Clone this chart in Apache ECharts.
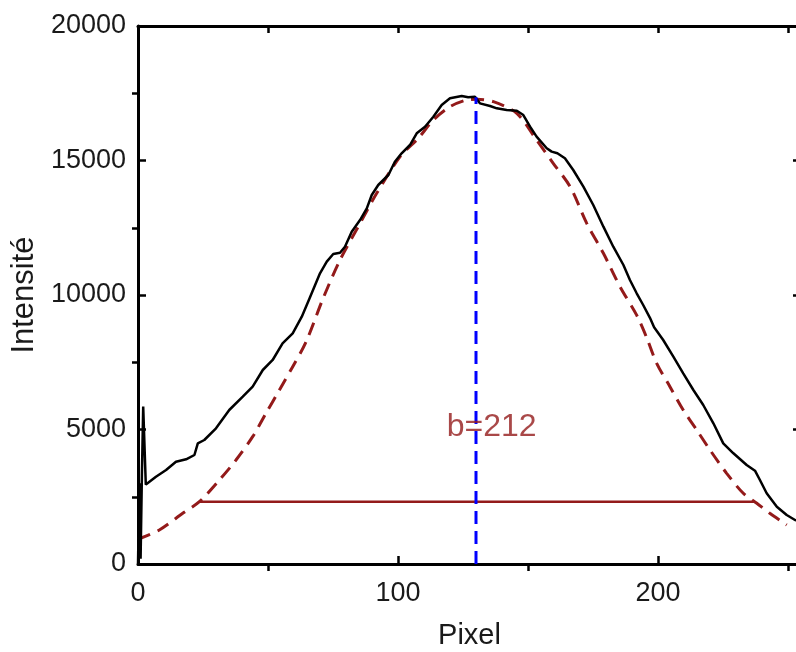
<!DOCTYPE html>
<html>
<head>
<meta charset="utf-8">
<script src="https://cdn.jsdelivr.net/npm/echarts@6/dist/echarts.min.js"></script>
<style>html,body{margin:0;padding:0;background:#fff}#c{width:796px;height:652px}</style>
</head>
<body>
<div id="c"></div>
<script>
// ---- data ----
const profileX = [0,0.5,1,1.5,2,3,4.4,6.9,10.8,14.6,18.5,21.7,23,25.5,30,35.1,40.3,44.1,48,51.8,55.6,59.5,63,66,70,72.6,75.1,77.7,79.6,82.2,85.4,88,89.9,92.4,96.3,98.8,101.4,104.6,107.2,110.4,113.6,116.8,120,124.5,127,129.6,131.5,135.4,138,141.8,145.7,148.2,150.8,153.3,157.2,159.1,161.3,164.2,167.4,171.3,175.1,179,182.8,186.7,189.2,191.8,194.3,196.9,198.5,202,205.9,209.7,213.6,217.4,221.3,225.1,229,234.1,237.3,239.2,241.8,245.7,249.5,252.7,255];
const profileY = [0,3000,200,3300,5850,2950,3060,3245,3494,3803,3892,4052,4486,4610,5044,5725,6220,6591,7212,7584,8204,8576,9193,9880,10807,11239,11524,11573,11796,12354,12788,13222,13717,14089,14461,14956,15267,15576,16010,16257,16629,17063,17311,17398,17348,17372,17125,17026,16940,16877,16851,16691,16257,15886,15454,15329,15267,15082,14647,14027,13346,12540,11796,11115,10558,10063,9628,9150,8800,8327,7707,7089,6468,5911,5230,4486,4115,3680,3468,3123,2628,2130,1822,1636,1600];
const fitX = [0,8.2,17.2,23.6,31.3,37.7,44.1,49.2,54.4,59.5,64.6,71.3,77.7,84.7,91.8,100.8,107.8,113.6,120,126.4,130.3,136.7,145.7,153.3,159.7,166.2,172.6,179,185.4,191.8,195.7,199.5,204.6,209.7,214.9,220,226.4,232.8,238,243,249.5];
const fitY = [920,1264,1884,2316,3123,3866,4733,5602,6468,7335,8250,9900,11301,12540,13780,15142,15825,16506,17000,17249,17274,17187,16754,15762,14896,14027,12665,11550,10309,9250,8400,7461,6591,5725,4981,4238,3372,2628,2257,1885,1450];
const widthLineX = [23.6, 237.3];
const widthLineY = 2316;
const centerX = 130;
const centerTop = 17350;
const annotation = {x: 136, y: 5100, text: 'b=212'};
const xMinorTicks = [50, 150, 250];
const yMinorTicks = [2500, 7500, 12500, 17500];
const xTitle = 'Pixel';
const yTitle = 'Intensité';

const FONT = 'Liberation Sans, Arial, sans-serif';
const DARKRED = '#931a1a';
const XMAX = 255;
const YMAX = 20000;

const chart = echarts.init(document.getElementById('c'), null, {renderer: 'canvas'});
const gridBox = {left: 138, top: 26, width: 2.6 * XMAX, height: 538, containLabel: false, outerBoundsMode: 'none'};
const tickStyle = {color: '#000', width: 2.5};
const line3 = {show: true, onZero: false, lineStyle: {color: '#000', width: 3}};
const noLine = {show: false, onZero: false};
const xBase = {type: 'value', min: 0, max: XMAX, interval: 100, splitLine: {show: false}};
const yBase = {type: 'value', min: 0, max: YMAX, interval: 5000, splitLine: {show: false}};

chart.setOption({
  animation: false,
  backgroundColor: '#fff',
  grid: [gridBox, Object.assign({}, gridBox)],
  xAxis: [
    Object.assign({}, xBase, {
      gridIndex: 0, position: 'bottom', axisLine: line3,
      axisTick: {show: true, inside: true, length: 8, lineStyle: tickStyle},
      axisLabel: {show: true, showMaxLabel: false, fontSize: 27, color: '#1a1a1a', fontFamily: FONT, margin: 16,
        formatter: v => (v % 100 === 0 ? String(v) : '')},
      name: xTitle, nameLocation: 'middle', nameGap: 57,
      nameTextStyle: {fontSize: 29, color: '#1a1a1a', fontFamily: FONT}
    }),
    Object.assign({}, xBase, {
      gridIndex: 0, position: 'top', axisLine: line3, interval: 50,
      axisTick: {show: true, inside: true, length: 7, lineStyle: tickStyle},
      axisLabel: {show: false}
    }),
    Object.assign({}, xBase, {
      gridIndex: 1, position: 'bottom', axisLine: noLine,
      axisTick: {show: true, inside: false, length: 7, customValues: xMinorTicks, lineStyle: tickStyle},
      axisLabel: {show: false}
    })
  ],
  yAxis: [
    Object.assign({}, yBase, {
      gridIndex: 0, position: 'left', axisLine: line3,
      axisTick: {show: true, inside: true, length: 8, lineStyle: tickStyle},
      axisLabel: {show: true, fontSize: 27, color: '#1a1a1a', fontFamily: FONT, margin: 12, formatter: v => String(v)},
      name: yTitle, nameLocation: 'middle', nameRotate: 90, nameGap: 80,
      nameTextStyle: {fontSize: 31, color: '#1a1a1a', fontFamily: FONT}
    }),
    Object.assign({}, yBase, {
      gridIndex: 0, position: 'right', axisLine: line3,
      axisTick: {show: true, inside: true, length: 8, lineStyle: tickStyle},
      axisLabel: {show: false}
    }),
    Object.assign({}, yBase, {
      gridIndex: 1, position: 'left', axisLine: noLine,
      axisTick: {show: true, inside: false, length: 6, customValues: yMinorTicks, lineStyle: tickStyle},
      axisLabel: {show: false}
    })
  ],
  series: [
    {
      type: 'line', xAxisIndex: 0, yAxisIndex: 0, symbol: 'none', z: 2,
      data: fitX.map((x, i) => [x, fitY[i]]), smooth: 0.3,
      lineStyle: {color: DARKRED, width: 3, type: [13, 8]}
    },
    {
      type: 'line', xAxisIndex: 0, yAxisIndex: 0, symbol: 'none', z: 2,
      data: widthLineX.map(x => [x, widthLineY]),
      lineStyle: {color: DARKRED, width: 2.5}
    },
    {
      type: 'line', xAxisIndex: 0, yAxisIndex: 0, symbol: 'none', z: 3,
      data: profileX.map((x, i) => [x, profileY[i]]),
      lineStyle: {color: '#000', width: 2.5}
    },
    {
      type: 'line', xAxisIndex: 0, yAxisIndex: 0, symbol: 'none', z: 4,
      data: [[centerX, 0], [centerX, centerTop]],
      lineStyle: {color: '#0000FF', width: 3, type: [13, 7]}
    },
    {
      type: 'scatter', xAxisIndex: 0, yAxisIndex: 0, symbolSize: 1, z: 5,
      itemStyle: {color: 'rgba(0,0,0,0)'},
      data: [[annotation.x, annotation.y]],
      label: {show: true, position: 'inside', formatter: annotation.text, fontSize: 32, color: DARKRED, fontFamily: FONT}
    }
  ]
});
</script>
</body>
</html>
